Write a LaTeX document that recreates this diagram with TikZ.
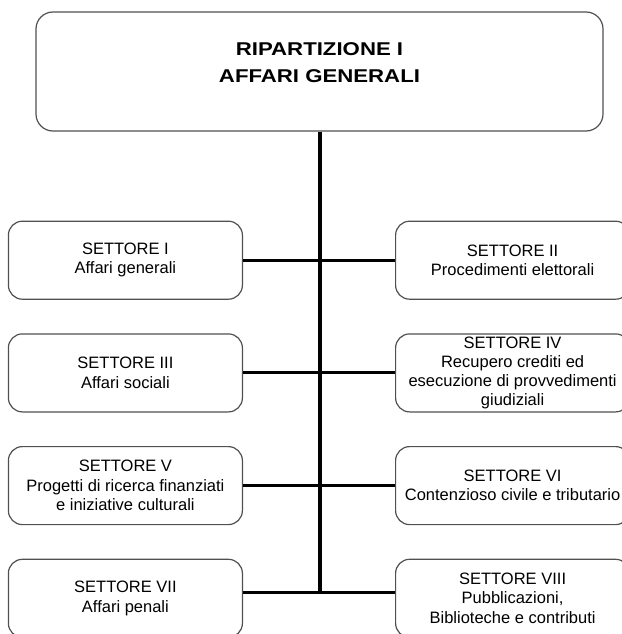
\documentclass[tikz,border=0pt]{standalone}
\usepackage{fontspec}
\setmainfont{Liberation Sans}
\newfontfamily\titlefont[FakeStretch=1.2]{Liberation Sans}
\usepackage{tikz}
\usetikzlibrary{positioning}
\definecolor{boxgray}{RGB}{80,80,80}

\begin{document}
\begin{tikzpicture}[
    x=1pt, y=1pt,
    node distance=33.5pt,
    headbox/.style={draw=boxgray, line width=1.2pt, rounded corners=17pt, minimum width=567pt, minimum height=119pt},
    headtext/.style={align=center, yshift=8.5pt, font=\titlefont\bfseries\fontsize{18.5}{27}\selectfont},
    sector/.style={draw=boxgray, line width=1.2pt, rounded corners=14pt, minimum width=234pt, minimum height=78pt, inner sep=1pt, align=center, font=\fontsize{16.5}{19.3}\selectfont},
    spine/.style={line width=4pt},
    branch/.style={line width=3pt}
]
    \useasboundingbox (0,0) rectangle (621,-634);

    \node[headbox, label={[headtext]center:{RIPARTIZIONE I\\AFFARI GENERALI}}] (rip) at (319.5,-71.5) {};

    \node[sector, below left=89pt and 76.5pt of rip.south] (s1) {SETTORE I\\Affari generali};
    \node[sector, right=152pt of s1] (s2) {SETTORE II\\Procedimenti elettorali};
    \node[sector, below=of s1] (s3) {SETTORE III\\Affari sociali};
    \node[sector, right=152pt of s3] (s4) {SETTORE IV\\Recupero crediti ed\\esecuzione di provvedimenti\\giudiziali};
    \node[sector, below=of s3] (s5) {SETTORE V\\Progetti di ricerca finanziati\\e iniziative culturali};
    \node[sector, right=152pt of s5] (s6) {SETTORE VI\\Contenzioso civile e tributario};
    \node[sector, below=of s5] (s7) {SETTORE VII\\Affari penali};
    \node[sector, right=152pt of s7] (s8) {SETTORE VIII\\Pubblicazioni,\\Biblioteche e contributi};

    % last branch sits a bit above the box centres
    \coordinate (j4) at ([yshift=5.5pt]s7.east);
    \draw[spine] (rip.south) -- (rip.south |- j4);
    \foreach \l/\r in {s1/s2, s3/s4, s5/s6}
        \draw[branch] (\l.east) -- (\r.west);
    \draw[branch] (j4) -- (s8.west |- j4);
\end{tikzpicture}
\end{document}
